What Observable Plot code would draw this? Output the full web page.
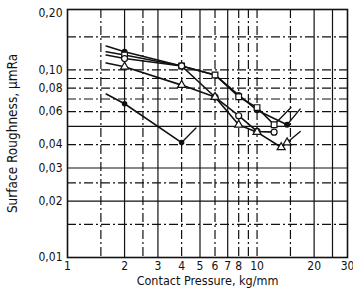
<!DOCTYPE html>
<html>
<head>
<meta charset="utf-8">
<script src="https://cdn.jsdelivr.net/npm/d3@7"></script>
<script src="https://cdn.jsdelivr.net/npm/@observablehq/plot@0.6"></script>
<style>
  body { margin: 0; background: #fff; }
  #chart { width: 353px; height: 296px; }
</style>
</head>
<body>
<div id="chart"></div>
<script>
// Tick labels
const xTicks = [1, 2, 3, 4, 5, 6, 7, 8, 9, 10, 20, 30];
const yTicks = [0.01, 0.02, 0.03, 0.04, 0.06, 0.08, 0.10, 0.20];
// Grid lines
const xGridSolid = [2, 3, 5, 7, 20, 25];
const xGridDash = [1.5, 2.5, 4, 6, 8, 9, 10, 15];
const yGridSolid = [0.02, 0.03, 0.05];
const yGridDash = [0.015, 0.025, 0.04, 0.06, 0.07, 0.08, 0.09, 0.10, 0.15];

// Series (contact pressure kg/mm, surface roughness µmRa); first point = unmarked line start
const seriesA_x = [1.6, 2, 4, 6, 8, 10, 14.4];
const seriesA_y = [0.134, 0.125, 0.105, 0.094, 0.0735, 0.061, 0.051];
const seriesA_tail = [14.4, 0.051, 16.9, 0.062];

const seriesB_x = [1.6, 2, 4, 6, 8, 10, 12.3];
const seriesB_y = [0.125, 0.12, 0.105, 0.094, 0.072, 0.063, 0.051];
const seriesB_tail = [12.3, 0.051, 15.1, 0.063];

const seriesC_x = [1.6, 2, 4, 6, 8, 10, 12.3];
const seriesC_y = [0.12, 0.115, 0.105, 0.0717, 0.057, 0.047, 0.0466];

const seriesD_x = [1.6, 2, 4, 6, 8, 10, 13.4, 14.4];
const seriesD_y = [0.109, 0.104, 0.083, 0.0717, 0.051, 0.0466, 0.0387, 0.041];
const seriesD_tail = [14.4, 0.041, 16.9, 0.047];

const seriesE_x = [1.6, 2, 4];
const seriesE_y = [0.0744, 0.066, 0.041];
const seriesE_tail = [4, 0.041, 4.76, 0.049];

const toPts = (xs, ys) => xs.map((x, i) => ({x, y: ys[i]}));
const tailPts = t => [{x: t[0], y: t[1]}, {x: t[2], y: t[3]}];
const marked = pts => pts.slice(1);

const A = toPts(seriesA_x, seriesA_y);
const B = toPts(seriesB_x, seriesB_y);
const C = toPts(seriesC_x, seriesC_y);
const D = toPts(seriesD_x, seriesD_y);
const E = toPts(seriesE_x, seriesE_y);

const ink = "#111";
const fmt = d => d.toFixed(2).replace(".", ",");

const chart = Plot.plot({
  width: 353,
  height: 296,
  marginLeft: 67,
  marginRight: 6,
  marginTop: 9,
  marginBottom: 39,
  style: {fontFamily: "'DejaVu Sans Condensed', 'DejaVu Sans', sans-serif", fontSize: "12px", color: ink, background: "#fff"},
  x: {type: "log", domain: [1, 30], label: null},
  y: {type: "log", domain: [0.01, 0.21], label: null},
  marks: [
    Plot.ruleX(xGridSolid, {stroke: ink, strokeWidth: 1.2}),
    Plot.ruleX(xGridDash, {stroke: ink, strokeWidth: 1.2, strokeDasharray: "9,3,2,3"}),
    Plot.ruleY(yGridSolid, {stroke: ink, strokeWidth: 1.2}),
    Plot.ruleY(yGridDash, {stroke: ink, strokeWidth: 1.2, strokeDasharray: "9,3,2,3"}),
    Plot.frame({stroke: ink, strokeWidth: 1.6}),
    Plot.axisX({ticks: xTicks, tickFormat: d => String(d), tickSize: 0, tickPadding: 4, fontSize: 12, label: null}),
    Plot.axisY({ticks: yTicks, tickFormat: fmt, tickSize: 0, tickPadding: 5, fontSize: 12, label: null}),
    Plot.line(A, {x: "x", y: "y", stroke: ink, strokeWidth: 1.6}),
    Plot.line(tailPts(seriesA_tail), {x: "x", y: "y", stroke: ink, strokeWidth: 1.3}),
    Plot.line(B, {x: "x", y: "y", stroke: ink, strokeWidth: 1.6}),
    Plot.line(tailPts(seriesB_tail), {x: "x", y: "y", stroke: ink, strokeWidth: 1.3}),
    Plot.line(C, {x: "x", y: "y", stroke: ink, strokeWidth: 1.6}),
    Plot.line(D, {x: "x", y: "y", stroke: ink, strokeWidth: 1.6}),
    Plot.line(tailPts(seriesD_tail), {x: "x", y: "y", stroke: ink, strokeWidth: 1.3}),
    Plot.line(E, {x: "x", y: "y", stroke: ink, strokeWidth: 1.6}),
    Plot.line(tailPts(seriesE_tail), {x: "x", y: "y", stroke: ink, strokeWidth: 1.3}),
    Plot.dot(marked(A), {x: "x", y: "y", r: 2.2, fill: ink, stroke: ink}),
    Plot.dot(marked(B), {x: "x", y: "y", symbol: "square", r: 3.2, fill: "#fff", stroke: ink, strokeWidth: 1.2}),
    Plot.dot(marked(C), {x: "x", y: "y", r: 3, fill: "#fff", stroke: ink, strokeWidth: 1.2}),
    Plot.dot(marked(D), {x: "x", y: "y", symbol: "triangle", r: 3, fill: "#fff", stroke: ink, strokeWidth: 1.2}),
    Plot.dot(marked(E), {x: "x", y: "y", r: 2, fill: ink, stroke: ink}),
    Plot.text(["Surface Roughness, \u00b5mRa"], {frameAnchor: "left", textAnchor: "middle", rotate: -90, dx: -55, fontSize: 13.5, fill: ink}),
    Plot.text(["Contact Pressure, kg/mm"], {frameAnchor: "bottom", textAnchor: "middle", dy: 27, fontSize: 12.5, fill: ink})
  ]
});
document.getElementById("chart").appendChild(chart);
</script>
</body>
</html>
